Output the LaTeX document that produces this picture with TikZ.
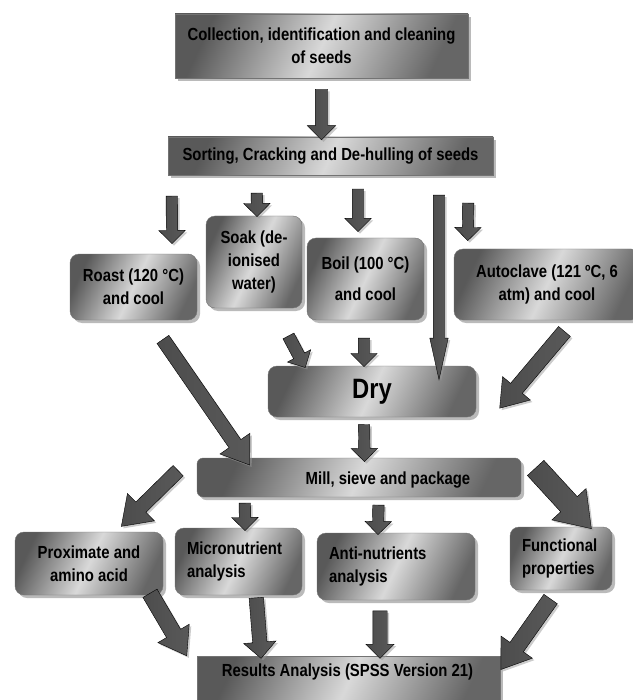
\documentclass[tikz,border=0pt]{standalone}
\usepackage{fontspec}
\setmainfont{Liberation Sans}[FakeStretch=0.85]
\usetikzlibrary{shapes.arrows,shadows,calc}

\tikzset{
  boxfont/.style={font=\bfseries\fontsize{17.5}{23}\selectfont},
  stepbox/.style={draw=black!55, thin, left color=black!65, right color=black!60,
    middle color=black!15, shading angle=65, boxfont, align=center, inner sep=0pt,
    drop shadow={shadow xshift=3pt, shadow yshift=-3pt, fill=black!45, opacity=0.6}},
  roundbox/.style={stepbox, rounded corners=9pt},
  arrsize/.style 2 args={inner ysep=#1, single arrow head extend=#2},
  blockarr/.style={single arrow, draw=black, thin, inner xsep=0pt,
    arrsize={5.5pt}{7.5pt}, single arrow head indent=0pt,
    left color=black!70, middle color=black!95, right color=black!65,
    drop shadow={shadow xshift=2pt, shadow yshift=-2pt, fill=black!40, opacity=0.5}},
}

\newcommand{\blockarrow}[3][]{%
  \path (#2) coordinate (ba-tail) (#3) coordinate (ba-tip);
  \path let \p1=($(ba-tip)-(ba-tail)$) in
    node[blockarr, #1, minimum height={veclen(\x1,\y1)}, rotate={atan2(\y1,\x1)}]
    at ($(ba-tail)!0.5!(ba-tip)$) {};}

\begin{document}
\begin{tikzpicture}[x=1pt,y=-1pt]
\useasboundingbox (0,0) rectangle (632,700);

\node[stepbox, minimum width=293pt, minimum height=64pt] (collect) at (321.5,46) {Collection, identification and cleaning\\of seeds};
\node[stepbox, minimum width=325pt, minimum height=38pt] (sort) at (330.5,156) {Sorting, Cracking and De-hulling of seeds};

\node[roundbox, minimum width=127pt, minimum height=66pt] (roast) at (133.5,287) {Roast (120 °C)\\and cool};
\node[roundbox, minimum width=96pt, minimum height=92pt] (soak) at (254,262) {Soak (de-\\ionised\\water)};
\node[roundbox, minimum width=117pt, minimum height=82pt] (boil) at (365.5,279) {Boil (100 °C)\\[8pt]and cool};
\node[roundbox, minimum width=186pt, minimum height=71pt] (auto) at (547,284.5) {Autoclave (121 ºC, 6\\atm) and cool};

\node[roundbox, minimum width=208pt, minimum height=51pt, font=\bfseries\fontsize{28}{30}\selectfont] (dry) at (372,391.5) {Dry};
\node[roundbox, rounded corners=6pt, minimum width=324pt, minimum height=39pt,
  label={[boxfont, xshift=29pt, yshift=-3pt]center:Mill, sieve and package}] (mill) at (359,477.5) {};

\node[roundbox, minimum width=148pt, minimum height=63pt] (prox) at (89,563.5) {Proximate and\\amino acid};
\node[roundbox, minimum width=127pt, minimum height=67pt, align=left, text width=103pt] (micro) at (238.5,561.5) {Micronutrient\\analysis};
\node[roundbox, minimum width=158pt, minimum height=67pt, align=left, text width=134pt] (anti) at (396,566.5) {Anti-nutrients\\analysis};
\node[roundbox, minimum width=102pt, minimum height=63pt, align=left, text width=78pt] (func) at (561,558.5) {Functional\\properties};

\node[stepbox, minimum width=303pt, minimum height=52pt,
  label={[boxfont, xshift=-1pt, yshift=10pt]center:Results Analysis (SPSS Version 21)}] (result) at (348.5,682) {};

% arrows
\blockarrow[arrsize={6pt}{8pt}]{$(collect.south)+(0,8)$}{collect.south |- sort.north}
\blockarrow{$(sort.south west)+(4,18)$}{$(roast.north)+(38.5,-13)$}
\blockarrow{$(sort.south west)+(89,15)$}{$(soak.north)+(3,-2)$}
\blockarrow{$(sort.south)+(27.5,11)$}{$(boil.north)+(-7.5,-9)$}
\blockarrow[arrsize={5.5pt}{3.5pt}, single arrow tip angle=25]{$(sort.south)+(108.5,7)$}{$(dry.north)+(67,1)$}
\blockarrow{$(sort.south east)+(-25,25)$}{$(auto.north west)+(14,-11)$}

\blockarrow[arrsize={7pt}{11pt}, single arrow tip angle=70]{$(roast.south)+(26.5,15)$}{$(mill.north west)+(50,3)$}
\blockarrow[arrsize={6pt}{7pt}]{$(soak.south)+(33,25)$}{$(dry.north west)+(36,-1)$}
\blockarrow{$(boil.south)+(-1.5,15)$}{$(dry.north)+(-8,-2)$}
\blockarrow[arrsize={7.5pt}{10.5pt}, single arrow tip angle=70]{$(auto.south)+(21,7)$}{$(dry.east)+(27,12.5)$}
\blockarrow{$(dry.south)+(-8,4.5)$}{$(mill.north)+(5.5,1)$}

\blockarrow[arrsize={7pt}{12pt}, single arrow tip angle=70]{$(mill.west)+(-15,-10.5)$}{$(prox.north)+(36,-9)$}
\blockarrow{$(mill.south west)+(48,3)$}{$(micro.north)+(6.5,0)$}
\blockarrow{$(mill.south)+(19.5,5)$}{$(anti.north)+(-18,-1)$}
\blockarrow[arrsize={11pt}{12pt}, single arrow tip angle=70]{$(mill.east)+(9,-15.5)$}{$(func.north)+(25,-4)$}

\blockarrow[arrsize={8pt}{10pt}, single arrow tip angle=70]{$(prox.south)+(58,-7)$}{$(result.north west)+(-13,-5)$}
\blockarrow[arrsize={7pt}{9pt}]{$(micro.south)+(17.5,-1)$}{$(result.north west)+(64,-1)$}
\blockarrow[arrsize={7pt}{7pt}]{$(anti.south)+(-16,7)$}{$(result.north)+(31.5,-1)$}
\blockarrow[arrsize={8pt}{11pt}, single arrow tip angle=70]{$(func.south)+(-7,4)$}{$(result.north east)+(4,9)$}

\end{tikzpicture}
\end{document}
